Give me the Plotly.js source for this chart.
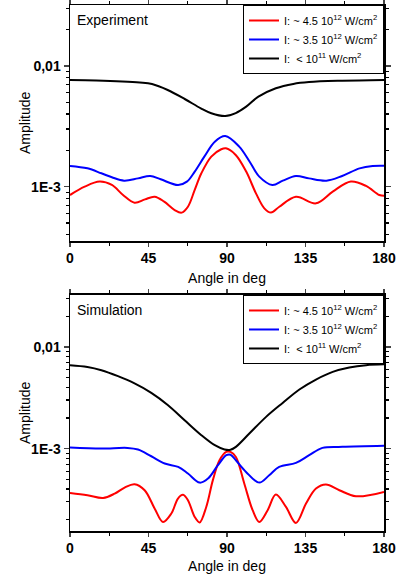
<!DOCTYPE html>
<html>
<head>
<meta charset="utf-8">
<script src="https://cdn.plot.ly/plotly-3.0.1.min.js"></script>
<style>html,body{margin:0;padding:0;background:#fff;}#chart{width:397px;height:574px;}</style>
</head>
<body>
<div id="chart"></div>
<script>
// ---------- Experiment (top panel) ----------
const expBlackAngle = [0, 15, 30, 40, 47, 56, 66, 75, 81, 89, 95, 101, 108, 118, 128, 137, 156, 180];
const expBlackAmp = [0.00766, 0.00759, 0.00745, 0.00729, 0.00708, 0.00632, 0.00530, 0.00446, 0.00406, 0.00385, 0.00407, 0.00460, 0.00557, 0.00653, 0.00710, 0.00736, 0.00755, 0.00766];

const expBlueAngle = [0, 10, 18, 24, 31, 39, 46, 52, 62, 67, 71.5, 77, 83, 89, 97, 103, 108.5, 116, 122, 129.5, 137, 147, 156, 166, 173.5, 180];
const expBlueAmp = [0.001486, 0.001419, 0.001291, 0.001197, 0.001122, 0.001172, 0.001227, 0.001151, 0.001033, 0.001102, 0.001334, 0.001774, 0.002360, 0.002630, 0.002148, 0.001611, 0.001211, 0.001033, 0.001122, 0.001227, 0.001172, 0.001122, 0.001227, 0.001419, 0.001486, 0.001493];

const expRedAngle = [0, 8.4, 17, 24, 30.4, 37, 43, 48.5, 54, 60, 64, 67.6, 71.5, 75.3, 81, 86.7, 89.4, 95, 101, 106.6, 111.4, 115.2, 120, 129.5, 141, 150.6, 161, 169.7, 177.3, 180];
const expRedAmp = [0.000853, 0.001000, 0.001102, 0.001033, 0.000853, 0.000736, 0.000785, 0.000826, 0.000752, 0.000641, 0.000610, 0.000682, 0.000940, 0.001291, 0.001774, 0.002042, 0.002080, 0.001832, 0.001334, 0.000881, 0.000662, 0.000610, 0.000682, 0.000826, 0.000728, 0.000910, 0.001102, 0.001014, 0.000853, 0.000841];

// ---------- Simulation (bottom panel) ----------
const simBlackAngle = [0, 10, 18, 27.5, 37, 46.6, 56.2, 65.7, 75.3, 83, 88.6, 92, 95.1, 102.8, 112.4, 121.9, 131.5, 141, 150.6, 160.1, 169.7, 180];
const simBlackAmp = [0.00661, 0.00635, 0.00590, 0.00515, 0.00437, 0.00353, 0.00267, 0.00190, 0.001355, 0.001079, 0.000980, 0.000973, 0.001040, 0.001406, 0.002051, 0.002812, 0.003811, 0.004775, 0.005675, 0.006266, 0.006607, 0.006730];

const simBlueAngle = [0, 18, 33, 39, 46.6, 54.3, 62, 67.6, 74.3, 79.1, 84.8, 89.6, 92, 95.1, 100.9, 108.5, 114.2, 119.9, 129.5, 137.1, 144.7, 156.2, 180];
const simBlueAmp = [0.001026, 0.001002, 0.001016, 0.000980, 0.000841, 0.000713, 0.000661, 0.000569, 0.000463, 0.000508, 0.000687, 0.000861, 0.000871, 0.000769, 0.000590, 0.000463, 0.000547, 0.000661, 0.000723, 0.000861, 0.001016, 0.001040, 0.001064];

const simRedAngle = [0, 10, 19, 25.6, 31.3, 37, 42.8, 48.5, 53.3, 58.1, 61.9, 64.8, 67.6, 71.5, 74.3, 78.1, 81.9, 85.7, 89.6, 92, 95.1, 99.9, 104.7, 108.5, 113.3, 118, 123.8, 129.5, 135.3, 141, 146.7, 154.4, 163.9, 180];
const simRedAmp = [0.000366, 0.000348, 0.000327, 0.000361, 0.000414, 0.000447, 0.000390, 0.000258, 0.000190, 0.000230, 0.000323, 0.000351, 0.000311, 0.000213, 0.000188, 0.000267, 0.000490, 0.000769, 0.000929, 0.000927, 0.000828, 0.000454, 0.000248, 0.000190, 0.000248, 0.000353, 0.000267, 0.000186, 0.000288, 0.000405, 0.000444, 0.000390, 0.000340, 0.000375];

// ---------- labels ----------
const legendNames = [
  "I: ~ 4.5 10<sup>12</sup> W/cm<sup>2</sup>",
  "I: ~ 3.5 10<sup>12</sup> W/cm<sup>2</sup>",
  "I:  &lt; 10<sup>11</sup> W/cm<sup>2</sup>"
];
const colors = ["#ff0000", "#0000ff", "#000000"];
const xTickVals = [0, 45, 90, 135, 180];
const yTickVals = [0.001, 0.01];
const yTickText = ["1E-3", "0,01"];
const yMinorVals = [0.0002, 0.0003, 0.0004, 0.0005, 0.0006, 0.0007, 0.0008, 0.0009,
                    0.002, 0.003, 0.004, 0.005, 0.006, 0.007, 0.008, 0.009, 0.02, 0.03];
const panelLabels = ["Experiment", "Simulation"];
const xTitle = "Angle in deg";
const yTitle = "Amplitude";

function tr(x, y, i, xa, ya, leg) {
  return {
    x: x, y: y, type: "scatter", mode: "lines",
    line: {color: colors[i], width: 2, shape: "spline", smoothing: 1},
    name: legendNames[i], xaxis: xa, yaxis: ya, legend: leg, showlegend: true
  };
}

const data = [
  tr(expRedAngle, expRedAmp, 0, "x", "y", "legend"),
  tr(expBlueAngle, expBlueAmp, 1, "x", "y", "legend"),
  tr(expBlackAngle, expBlackAmp, 2, "x", "y", "legend"),
  tr(simRedAngle, simRedAmp, 0, "x2", "y2", "legend2"),
  tr(simBlueAngle, simBlueAmp, 1, "x2", "y2", "legend2"),
  tr(simBlackAngle, simBlackAmp, 2, "x2", "y2", "legend2")
];

const font = {family: "Liberation Sans, Arial, sans-serif", color: "#000"};
function xax(anchor) {
  return {
    domain: [0, 1], anchor: anchor, range: [0, 180],
    tickvals: xTickVals, ticks: "outside", ticklen: 4, tickwidth: 1.5,
    minor: {dtick: 22.5, tick0: 0, ticks: "outside", ticklen: 3, tickwidth: 1.2, tickcolor: "#000"},
    showline: true, linewidth: 1.5, linecolor: "#000", mirror: "ticks",
    showgrid: false, zeroline: false,
    tickfont: {family: font.family, size: 14, weight: "bold", color: "#000"},
    title: {text: xTitle, font: {family: font.family, size: 14, color: "#000"}, standoff: 8}
  };
}
function yax(dom, anchor, rng) {
  return {
    domain: dom, anchor: anchor, type: "log", range: rng,
    tickvals: yTickVals, ticktext: yTickText, ticks: "outside", ticklen: 5, tickwidth: 1.5,
    minor: {tickvals: yMinorVals, ticks: "outside", ticklen: 3, tickwidth: 1.2, tickcolor: "#000"},
    showline: true, linewidth: 1.5, linecolor: "#000", mirror: "ticks",
    showgrid: false, zeroline: false,
    tickfont: {family: font.family, size: 14, weight: "bold", color: "#000"}
  };
}

const legendBase = {
  x: 1, xanchor: "right", bgcolor: "#fff", bordercolor: "#000", borderwidth: 1,
  font: {family: font.family, size: 11, color: "#000"}, yanchor: "top",
  itemwidth: 30, tracegroupgap: 0
};

const topDom = [0.5513, 1];
const botDom = [0, 0.4487];

function panelLabel(txt, ytop) {
  return {text: txt, xref: "paper", yref: "paper", x: 0.015, y: ytop, xanchor: "left", yanchor: "top",
          yshift: -5, showarrow: false, font: {family: font.family, size: 14, color: "#000"}};
}
function yTitleAnn(dom) {
  return {text: yTitle, xref: "paper", yref: "paper", x: -0.1433, y: (dom[0] + dom[1]) / 2,
          xanchor: "center", yanchor: "middle", textangle: -90, showarrow: false,
          font: {family: font.family, size: 14, color: "#000"}};
}

const layout = {
  width: 397, height: 574,
  margin: {l: 70, r: 13, t: 5, b: 43},
  paper_bgcolor: "#fff", plot_bgcolor: "#fff",
  font: font,
  xaxis: xax("y"),
  yaxis: yax(topDom, "x", [-3.45, -1.495]),
  xaxis2: xax("y2"),
  yaxis2: yax(botDom, "x2", [-3.81, -1.49]),
  legend: Object.assign({}, legendBase, {y: 1}),
  legend2: Object.assign({}, legendBase, {y: 0.4487}),
  annotations: [
    panelLabel(panelLabels[0], 1),
    panelLabel(panelLabels[1], 0.4487),
    yTitleAnn(topDom),
    yTitleAnn(botDom)
  ]
};

Plotly.newPlot("chart", data, layout, {staticPlot: true, displayModeBar: false});
</script>
</body>
</html>
